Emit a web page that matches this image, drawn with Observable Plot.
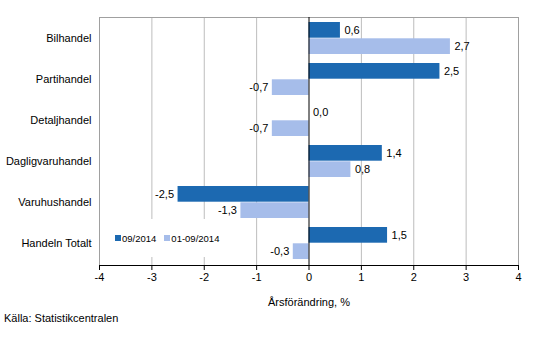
<!DOCTYPE html>
<html><head><meta charset="utf-8">
<script src="https://cdn.jsdelivr.net/npm/d3@7"></script>
<script src="https://cdn.jsdelivr.net/npm/@observablehq/plot@0.6"></script>
<style>
body{margin:0;background:#fff;font-family:"Liberation Sans",Arial,sans-serif;color:#000;}
#wrap{position:relative;width:533px;}
#legend{position:absolute;left:108px;top:219px;width:120px;height:38px;background:#fff;display:flex;align-items:center;font-size:9.5px;padding-left:7px;box-sizing:border-box;white-space:nowrap;}
#legend .sw{display:inline-block;width:6px;height:6px;margin-right:1px;}
#legend .item{display:flex;align-items:center;margin-right:8px;white-space:nowrap;}
#caption{font-size:11px;margin:2px 0 0 4px;}
</style></head><body>
<div id="wrap"><div id="chart"></div><div id="legend"></div></div>
<div id="caption">Källa: Statistikcentralen</div>
<script>
const categories = ["Bilhandel","Partihandel","Detaljhandel","Dagligvaruhandel","Varuhushandel","Handeln Totalt"];
const seriesNames = ["09/2014","01-09/2014"];
const values0914 = [0.6, 2.5, 0.0, 1.4, -2.5, 1.5];
const values0109 = [2.7, -0.7, -0.7, 0.8, -1.3, -0.3];
const xTicks = [-4,-3,-2,-1,0,1,2,3,4];
const gridTicks = [-3,-2,-1,1,2,3];
const colors = ["#1c69b1","#a6bdea"];

const s0 = categories.map((c,i)=>({category:c, value:values0914[i], series:seriesNames[0]}));
const s1 = categories.map((c,i)=>({category:c, value:values0109[i], series:seriesNames[1]}));
const fmt = v => v.toFixed(1).replace(".", ",");

const H = 248, n = categories.length, pI = 0.21, pO = 0.11;
const step = H/(n - pI + 2*pO), bw = step*(1-pI);

function labels(data, dy){
  return [
    Plot.text(data.filter(d=>d.value>=0), {x:"value", y:"category", text:d=>fmt(d.value), dx:4, dy, textAnchor:"start", fontSize:11, fill:"#000"}),
    Plot.text(data.filter(d=>d.value<0), {x:"value", y:"category", text:d=>fmt(d.value), dx:-4, dy, textAnchor:"end", fontSize:11, fill:"#000"})
  ];
}

const chart = Plot.plot({
  width:533, height:310,
  marginLeft:99, marginRight:15, marginTop:17, marginBottom:45,
  style:{fontSize:"11px", fontFamily:'"Liberation Sans",Arial,sans-serif', color:"#000", background:"#fff"},
  x:{domain:[-4,4]},
  y:{domain:categories, paddingInner:pI, paddingOuter:pO},
  marks:[
    Plot.gridX(gridTicks, {stroke:"#bdbdbd", strokeOpacity:1}),
    Plot.frame({stroke:"#a0a0a0"}),
    Plot.barX(s0, {x:"value", y:"category", fill:colors[0], insetBottom:bw/2}),
    Plot.barX(s1, {x:"value", y:"category", fill:colors[1], insetTop:bw/2}),
    Plot.ruleX([0], {stroke:"#000"}),
    Plot.frame({anchor:"bottom", stroke:"#000"}),
    ...labels(s0, -bw/4),
    ...labels(s1, bw/4),
    Plot.axisY({tickSize:0, tickPadding:8, label:null, fontSize:11}),
    Plot.axisX({ticks:xTicks, tickSize:5, tickPadding:3, tickFormat:d=>String(d), label:"Årsförändring, %", labelAnchor:"center", labelArrow:false, labelOffset:40, fontSize:11})
  ]
});
document.getElementById("chart").appendChild(chart);

const legend = document.getElementById("legend");
seriesNames.forEach((name,i)=>{
  const item = document.createElement("span");
  item.className = "item";
  const sw = document.createElement("span");
  sw.className = "sw"; sw.style.background = colors[i];
  item.appendChild(sw);
  item.appendChild(document.createTextNode(name));
  legend.appendChild(item);
});
</script>
</body></html>
